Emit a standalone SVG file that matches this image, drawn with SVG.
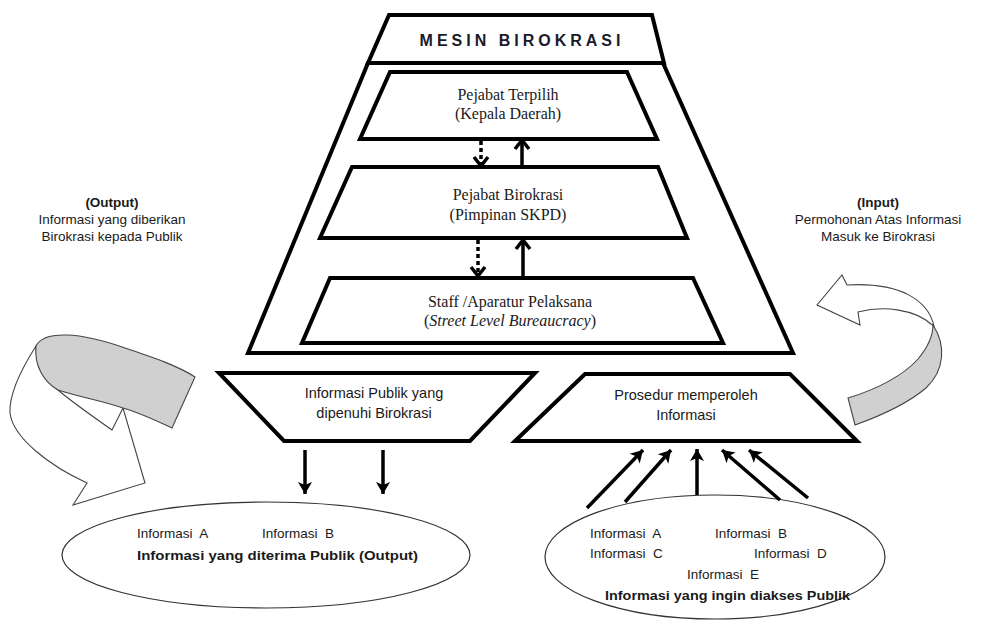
<svg xmlns="http://www.w3.org/2000/svg" width="988" height="628" viewBox="0 0 988 628">
<defs>
<style>
.trap{fill:#fff;stroke:#000;stroke-width:4;stroke-linejoin:miter}
.serif{font-family:"Liberation Serif","Times New Roman",serif;font-size:16px;fill:#1a1a1a;text-anchor:middle}
.sans{font-family:"Liberation Sans",Arial,sans-serif;font-size:13.5px;fill:#1a1a1a}
.lbl{font-size:14.5px}
.mid{text-anchor:middle}
.b{font-weight:bold}
.pre{white-space:pre}
.ell{fill:#fff;stroke:#333;stroke-width:1.2}
.ribbon{fill:#fff;stroke:#444;stroke-width:1.1;stroke-linejoin:miter}
.ribbon-g{fill:#d0d0d0;stroke:#444;stroke-width:1.1}
.fa{stroke:#000;stroke-width:3.5;fill:none;marker-end:url(#fill)}
.oa{stroke:#000;stroke-width:3.5;fill:none;marker-end:url(#open)}
.da{stroke:#000;stroke-width:3.5;fill:none;stroke-dasharray:4 3;marker-end:url(#open)}
</style>
<marker id="fill" markerUnits="userSpaceOnUse" markerWidth="16" markerHeight="16" refX="14" refY="8" orient="auto" viewBox="0 0 16 16">
<path d="M2,1 L14,8 L2,15 L5,8 Z" fill="#000"/>
</marker>
<marker id="open" markerUnits="userSpaceOnUse" markerWidth="16" markerHeight="18" refX="13" refY="9" orient="auto" viewBox="0 0 16 18">
<path d="M4,2 L13,9 L4,16" fill="none" stroke="#000" stroke-width="3.5"/>
</marker>
</defs>
<rect width="988" height="628" fill="#fff"/>

<g id="mesin-birokrasi">
<polygon class="trap" points="368,63 663,63 793,353 248,353"/>
<polygon class="trap" points="389,15 652,15 664,63 368,63"/>
<text x="522" y="46" font-family="Liberation Sans, Arial, sans-serif" font-size="16" font-weight="bold" letter-spacing="4" text-anchor="middle" fill="#1a1a2a">MESIN BIROKRASI</text>
</g>

<g id="pejabat-terpilih">
<polygon class="trap" points="390,72 627,72 657,139 360,139"/>
<text class="serif" x="508" y="100">Pejabat Terpilih</text>
<text class="serif" x="508" y="119">(Kepala Daerah)</text>
</g>

<g id="pejabat-birokrasi">
<polygon class="trap" points="352,167 658,167 687,238 320,238"/>
<text class="serif" x="508" y="200">Pejabat Birokrasi</text>
<text class="serif" x="508" y="220">(Pimpinan SKPD)</text>
</g>

<g id="staff">
<polygon class="trap" points="330,278 693,278 723,343 302,343"/>
<text class="serif" x="510" y="307">Staff /Aparatur Pelaksana</text>
<text class="serif" x="510" y="326">(<tspan font-style="italic">Street Level Bureaucracy</tspan>)</text>
</g>

<g id="informasi-publik">
<polygon class="trap" points="219,373 535,373 470,441 284,441"/>
<text class="sans lbl mid" x="374" y="398">Informasi Publik yang</text>
<text class="sans lbl mid" x="374" y="418">dipenuhi Birokrasi</text>
</g>

<g id="prosedur">
<polygon class="trap" points="585,374 790,374 857,441 515,441"/>
<text class="sans lbl mid" x="686" y="400">Prosedur memperoleh</text>
<text class="sans lbl mid" x="686" y="420">Informasi</text>
</g>

<g id="output-ellipse">
<ellipse class="ell" cx="266" cy="555" rx="204" ry="53"/>
<text class="sans pre" x="137" y="538">Informasi  A</text>
<text class="sans pre" x="262" y="538">Informasi  B</text>
<text class="sans b" x="137" y="560" textLength="281" lengthAdjust="spacingAndGlyphs">Informasi yang diterima Publik (Output)</text>
</g>

<g id="input-ellipse">
<ellipse class="ell" cx="715" cy="557" rx="170" ry="62"/>
<text class="sans pre" x="590" y="538">Informasi  A</text>
<text class="sans pre" x="715" y="538">Informasi  B</text>
<text class="sans pre" x="590" y="558">Informasi  C</text>
<text class="sans pre" x="754" y="558">Informasi  D</text>
<text class="sans pre" x="687" y="579">Informasi  E</text>
<text class="sans b" x="605" y="600" textLength="245" lengthAdjust="spacingAndGlyphs">Informasi yang ingin diakses Publik</text>
</g>

<g id="output-label">
<text class="sans mid b" x="112" y="207">(Output)</text>
<text class="sans mid" x="112" y="224">Informasi yang diberikan</text>
<text class="sans mid" x="112" y="241">Birokrasi kepada Publik</text>
</g>

<g id="input-label">
<text class="sans mid b" x="878" y="207">(Input)</text>
<text class="sans mid" x="878" y="224">Permohonan Atas Informasi</text>
<text class="sans mid" x="878" y="241">Masuk ke Birokrasi</text>
</g>

<g id="output-curved-arrow">
<path class="ribbon" d="M36,346 C22,368 9,395 10,413 C13,438 50,466 87,483 L73,505 L145,483 L123,408 L112,430 C92,416 72,402 58,390 C44,380 36,366 36,346 Z"/>
<path class="ribbon-g" d="M36,346 C44,330 80,332 125,348 C155,358 178,366 195,377 L172,428 C155,420 138,412 123,408 C100,400 75,396 58,390 C44,382 34,366 36,346 Z"/>
</g>

<g id="input-curved-arrow">
<path class="ribbon" d="M847,285 L842,275 L817,305 L860,325 L858,312 C885,305 915,310 931,324 L934,326 C928,300 900,282 847,285 Z"/>
<path class="ribbon-g" d="M933,325 C946,345 945,370 926,388 C906,405 880,416 855,425 L848,398 C875,390 903,376 918,359 C928,347 933,336 933,325 Z"/>
</g>

<g id="connectors">
<path class="da" d="M481,141 V166"/>
<path class="oa" d="M522,167 V140"/>
<path class="da" d="M478,240 V276"/>
<path class="oa" d="M523,277 V240"/>
<path class="fa" d="M305,450 V494"/>
<path class="fa" d="M383,450 V494"/>
<path class="fa" d="M587,508 L643,450"/>
<path class="fa" d="M625,502 L671,450"/>
<path class="fa" d="M697,495 V449"/>
<path class="fa" d="M780,500 L722,450"/>
<path class="fa" d="M808,498 L749,450"/>
</g>
</svg>
